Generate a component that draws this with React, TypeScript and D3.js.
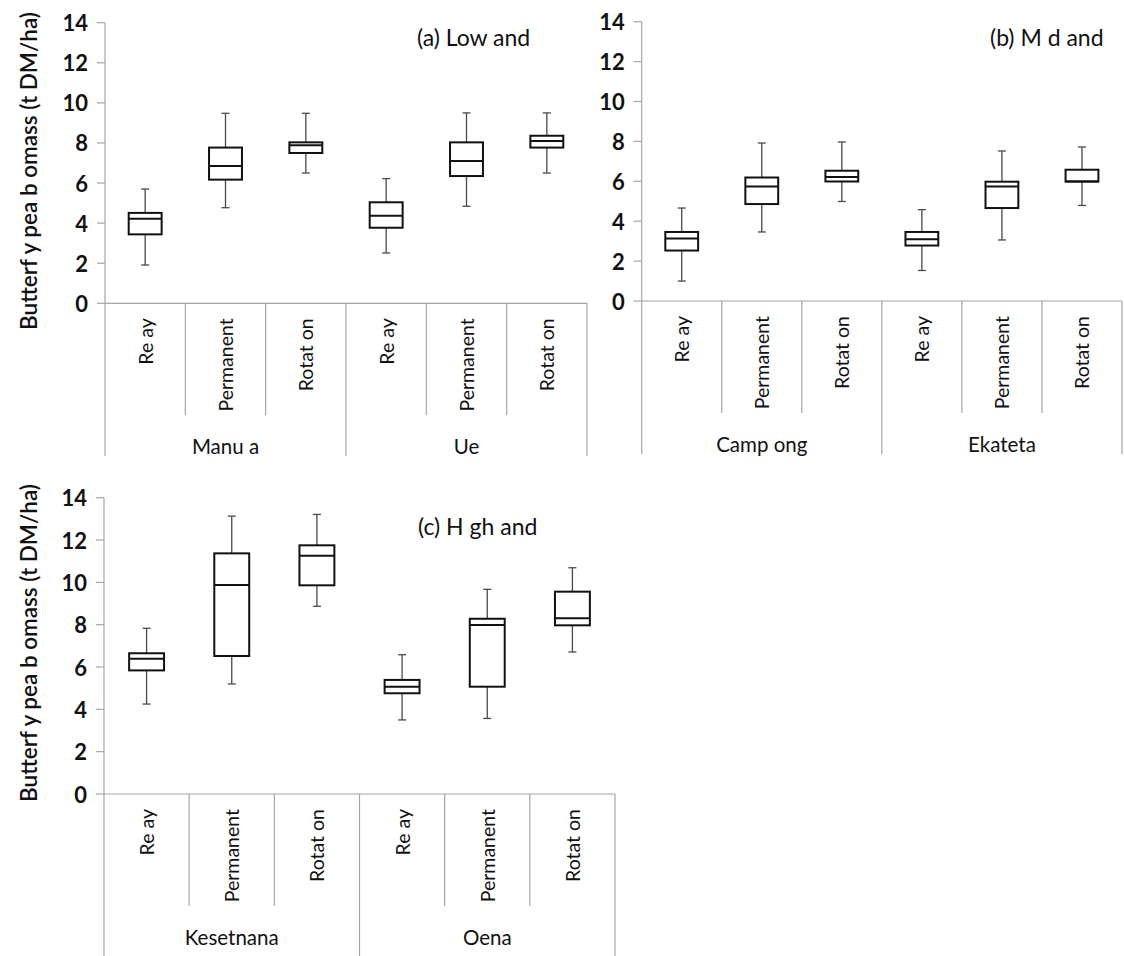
import React from "react";
import * as d3 from "d3";

// Five-number summaries per category: [lower whisker, Q1, median, Q3, upper whisker]
const categories = ["Re ay", "Permanent", "Rotat on"];

const lowlandGroups = ["Manu a", "Ue"];
const lowlandStats: number[][] = [
  [1.91, 3.44, 4.22, 4.51, 5.7],
  [4.77, 6.17, 6.85, 7.77, 9.48],
  [6.5, 7.5, 7.88, 8.03, 9.48],
  [2.51, 3.77, 4.37, 5.04, 6.22],
  [4.84, 6.35, 7.1, 8.03, 9.5],
  [6.5, 7.77, 8.1, 8.36, 9.5],
];

const midlandGroups = ["Camp ong", "Ekateta"];
const midlandStats: number[][] = [
  [1.0, 2.53, 3.13, 3.46, 4.66],
  [3.46, 4.86, 5.74, 6.19, 7.92],
  [4.99, 5.99, 6.21, 6.53, 7.97],
  [1.53, 2.78, 3.1, 3.46, 4.58],
  [3.06, 4.66, 5.74, 5.98, 7.52],
  [4.79, 5.99, 5.99, 6.58, 7.72],
];

const highlandGroups = ["Kesetnana", "Oena"];
const highlandStats: number[][] = [
  [4.25, 5.84, 6.39, 6.65, 7.83],
  [5.2, 6.52, 9.87, 11.37, 13.13],
  [8.87, 9.86, 11.26, 11.75, 13.21],
  [3.5, 4.76, 5.07, 5.39, 6.58],
  [3.57, 5.07, 7.98, 8.28, 9.67],
  [6.71, 7.97, 8.3, 9.56, 10.69],
];

const yTicks = [0, 2, 4, 6, 8, 10, 12, 14];
const yLabel = "Butterf y pea b omass (t DM/ha)";

const FONT = "Lato, 'Open Sans', sans-serif";
const INK = "#111";
const AXIS_GREY = "#a6a6a6";
const WHISKER_GREY = "#4a4a4a";

type PanelProps = {
  title: string;
  titleX: number;
  titleY: number;
  groups: string[];
  stats: number[][];
  x0: number;
  x1: number;
  yTop: number;
  yBottom: number;
  longDrop: number;
  yLabelCenter?: number;
};

function Panel(p: PanelProps) {
  const labels = p.groups.flatMap((g) => categories.map((c) => `${g}|${c}`));
  const x = d3.scaleBand<string>().domain(labels).range([p.x0, p.x1]).paddingInner(0).paddingOuter(0);
  const y = d3.scaleLinear().domain([0, 14]).range([p.yBottom, p.yTop]);
  const bw = x.bandwidth();
  const boxW = bw * 0.41;
  const capW = 8;
  const shortDrop = 112;
  const perGroup = categories.length;

  return (
    <g>
      {/* y axis */}
      <line x1={p.x0} x2={p.x0} y1={y(14)} y2={y(0)} stroke={AXIS_GREY} strokeWidth={1.2} />
      {yTicks.map((t) => (
        <g key={t}>
          <line x1={p.x0 - 8} x2={p.x0} y1={y(t)} y2={y(t)} stroke={AXIS_GREY} strokeWidth={1.2} />
          <text
            x={p.x0 - 17}
            y={y(t)}
            textAnchor="end"
            dominantBaseline="central"
            fontFamily={FONT}
            fontWeight="bold"
            fontSize={22}
            fill={INK}
          >
            {t}
          </text>
        </g>
      ))}
      {p.yLabelCenter !== undefined && (
        <text
          transform={`translate(28,${p.yLabelCenter}) rotate(-90)`}
          textAnchor="middle"
          dominantBaseline="central"
          fontFamily={FONT}
          fontWeight={600}
          fontSize={22.5}
          fill={INK}
        >
          {yLabel}
        </text>
      )}
      {/* x axis with category separators */}
      <line x1={p.x0} x2={p.x1} y1={y(0)} y2={y(0)} stroke={AXIS_GREY} strokeWidth={1.2} />
      {labels.map((l, i) => {
        const left = x(l)!;
        const isGroupEdge = i % perGroup === 0;
        return (
          <line
            key={`sep${i}`}
            x1={left}
            x2={left}
            y1={y(0)}
            y2={y(0) + (isGroupEdge ? p.longDrop : shortDrop)}
            stroke={AXIS_GREY}
            strokeWidth={1.2}
          />
        );
      })}
      <line x1={p.x1} x2={p.x1} y1={y(0)} y2={y(0) + p.longDrop} stroke={AXIS_GREY} strokeWidth={1.2} />
      {labels.map((l, i) => {
        const cx = x(l)! + bw / 2;
        return (
          <text
            key={`cat${i}`}
            transform={`translate(${cx},${y(0) + 15}) rotate(-90)`}
            textAnchor="end"
            dominantBaseline="central"
            fontFamily={FONT}
            fontSize={19.5}
            fill={INK}
          >
            {categories[i % perGroup]}
          </text>
        );
      })}
      {p.groups.map((g, gi) => {
        const left = x(labels[gi * perGroup])!;
        const cx = left + (bw * perGroup) / 2;
        return (
          <text
            key={`grp${gi}`}
            x={cx}
            y={y(0) + 143}
            textAnchor="middle"
            dominantBaseline="central"
            fontFamily={FONT}
            fontSize={20.5}
            fill={INK}
          >
            {g}
          </text>
        );
      })}
      {/* box plots */}
      {p.stats.map((s, i) => {
        const [lo, q1, med, q3, hi] = s;
        const cx = x(labels[i])! + bw / 2;
        return (
          <g key={`box${i}`}>
            <line x1={cx} x2={cx} y1={y(hi)} y2={y(q3)} stroke={WHISKER_GREY} strokeWidth={1.3} />
            <line x1={cx} x2={cx} y1={y(q1)} y2={y(lo)} stroke={WHISKER_GREY} strokeWidth={1.3} />
            <line x1={cx - capW / 2} x2={cx + capW / 2} y1={y(hi)} y2={y(hi)} stroke={WHISKER_GREY} strokeWidth={1.3} />
            <line x1={cx - capW / 2} x2={cx + capW / 2} y1={y(lo)} y2={y(lo)} stroke={WHISKER_GREY} strokeWidth={1.3} />
            <rect
              x={cx - boxW / 2}
              y={y(q3)}
              width={boxW}
              height={y(q1) - y(q3)}
              fill="#fff"
              stroke={INK}
              strokeWidth={2}
            />
            <line x1={cx - boxW / 2} x2={cx + boxW / 2} y1={y(med)} y2={y(med)} stroke={INK} strokeWidth={2} />
          </g>
        );
      })}
      <text
        x={p.titleX}
        y={p.titleY}
        dominantBaseline="central"
        fontFamily={FONT}
        fontSize={23}
        fill={INK}
      >
        {p.title}
      </text>
    </g>
  );
}

export default function App() {
  return (
    <svg
      width={1124}
      height={956}
      style={{ position: "absolute", left: 0, top: 0, background: "#fff" }}
    >
      <rect width={1124} height={956} fill="#fff" />
      <Panel
        title="(a) Low and"
        titleX={417}
        titleY={37}
        groups={lowlandGroups}
        stats={lowlandStats}
        x0={105}
        x1={587}
        yTop={22.7}
        yBottom={303.3}
        longDrop={153}
        yLabelCenter={171}
      />
      <Panel
        title="(b) M d and"
        titleX={990}
        titleY={37}
        groups={midlandGroups}
        stats={midlandStats}
        x0={641.7}
        x1={1122}
        yTop={21.7}
        yBottom={301}
        longDrop={153}
      />
      <Panel
        title="(c) H gh and"
        titleX={418}
        titleY={526}
        groups={highlandGroups}
        stats={highlandStats}
        x0={104}
        x1={615}
        yTop={497.7}
        yBottom={794}
        longDrop={170}
        yLabelCenter={643}
      />
    </svg>
  );
}
